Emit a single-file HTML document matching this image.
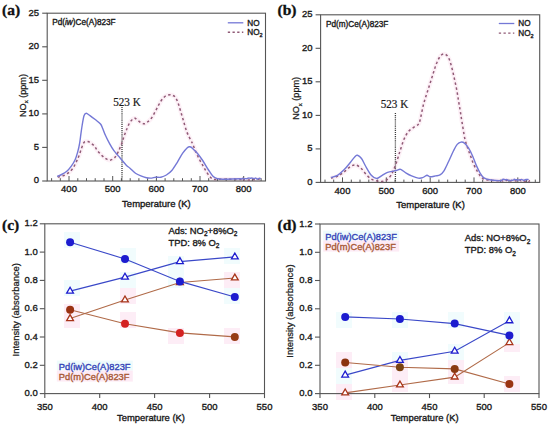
<!DOCTYPE html>
<html><head><meta charset="utf-8"><style>
html,body{margin:0;padding:0;background:#fff;}
svg{display:block;}
</style></head><body>
<svg width="550" height="427" viewBox="0 0 550 427">
<rect width="550" height="427" fill="#fff"/>
<path d="M57.7,177.1C58.6,176.9 61.2,176.5 62.9,175.8C64.6,175.2 66.4,174.4 68,173.2C69.6,172 71.2,170.6 72.6,168.7C74,166.8 75.3,163.8 76.4,161.6C77.5,159.4 78.1,158.1 79,155.8C79.9,153.6 80.7,150.4 81.6,148.1C82.5,145.8 83.1,143.3 84.2,142.2C85.3,141.1 86.8,141.4 88,141.6C89.2,141.8 90.2,142.8 91.3,143.5C92.4,144.2 93.5,145 94.5,146.1C95.5,147.2 95.9,148.5 97,150C98.1,151.5 99.8,153.5 101.2,154.9C102.6,156.3 104,157.5 105.4,158.4C106.8,159.3 108.1,160.3 109.6,160.2C111.1,160.1 113.2,159 114.6,157.7C116,156.3 116.9,154.4 118.1,152.1C119.3,149.8 120.5,146.5 121.6,143.7C122.6,140.9 123.5,137.9 124.4,135.3C125.3,132.7 126.3,130.3 127.2,128.2C128.1,126.1 128.8,124 129.8,122.5C130.8,121 132.1,119.7 133,119C133.9,118.3 134.2,118 135,118.2C135.8,118.5 137,119.7 138,120.5C139,121.3 139.9,122.2 141,122.8C142.1,123.3 143.4,123.9 144.5,123.8C145.6,123.7 146.3,122.9 147.5,122C148.7,121.1 150.2,119.9 151.4,118.2C152.7,116.5 153.9,114 155,112C156.1,110 157.2,107.7 158.2,105.9C159.2,104.1 160.1,102.4 161,101C161.9,99.6 162.7,98.6 163.6,97.7C164.5,96.8 165.4,96 166.5,95.5C167.6,95 169,94.7 170.1,94.7C171.2,94.7 172.1,95 173,95.5C173.9,96 174.6,96 175.5,97.5C176.4,99 177.4,101 178.6,104.5C179.8,108 181.3,113.7 182.7,118.2C184.1,122.8 185.4,128.1 186.8,131.8C188.2,135.5 189.9,138.4 190.9,140.5C191.9,142.6 191.8,142 192.7,144.1C193.6,146.2 195.2,150.5 196.4,153.2C197.6,155.9 198.8,158.2 200,160.5C201.2,162.8 202.4,164.7 203.6,166.8C204.8,168.9 206.1,171.4 207.3,173.2C208.5,175 209.7,176.6 210.9,177.7C212.1,178.8 212.8,179.2 214.5,179.5C216.2,179.8 216.7,179.2 220.9,179.2C225.2,179.2 236.6,179.4 240,179.5C243.4,179.6 240.9,179.8 241.3,179.7C241.7,179.6 242.2,178.9 242.6,178.9C243,178.9 243.5,179.6 243.9,179.7C244.3,179.9 244.8,179.8 245.2,179.8C245.6,179.9 246.1,179.9 246.5,179.9C246.9,179.9 247.4,179.9 247.8,179.9C248.2,179.9 248.7,179.9 249.1,179.9C249.5,180 250,180 250.4,179.9C250.8,179.9 251.3,179.9 251.7,179.8C252.1,179.7 252.6,179.4 253,179.4C253.4,179.4 253.9,179.8 254.3,179.8C254.7,179.9 255.2,179.8 255.6,179.8C256,179.8 256.5,179.8 256.9,179.7C257.3,179.6 257.8,179.2 258.2,179.1C258.6,179.1 259.1,179.5 259.5,179.6C259.9,179.7 260.6,179.7 260.8,179.7" fill="none" stroke="#fdf1f7" stroke-width="4.5" stroke-linejoin="round"/>
<path d="M330.9,178.1C332,177.8 335.3,177.4 337.5,176.4C339.7,175.4 341.8,173.7 344,172C346.2,170.3 348.5,167.7 350.5,166.5C352.5,165.3 354.2,164.6 356,165C357.8,165.4 359.7,167 361.5,168.7C363.3,170.4 365.1,173.5 366.9,175.3C368.7,177.1 370.4,178.6 372.4,179.6C374.4,180.6 376.7,181.1 378.9,181.3C381.1,181.5 383.5,181.7 385.5,180.7C387.5,179.7 389.3,177.8 390.9,175.3C392.5,172.8 393.9,169.3 395.3,165.5C396.8,161.7 398.2,156.8 399.6,152.4C401.1,148 402.5,142.8 404,139.3C405.5,135.8 406.8,133.6 408.4,131.6C410,129.6 412.2,128.5 413.8,127.3C415.4,126.1 417.2,125.6 418.2,124.5C419.2,123.4 419.1,124 420,120.5C420.9,117 422.3,109 423.7,103.7C425.1,98.4 426.8,93.7 428.4,88.7C430,83.7 431.7,78.1 433.1,73.7C434.5,69.3 435.6,65.5 436.9,62.5C438.1,59.5 439.4,57.3 440.6,55.9C441.8,54.5 443.1,53.8 444.3,54C445.6,54.2 447,55.2 448.1,56.9C449.2,58.6 450,61.2 450.9,64.3C451.8,67.4 452.8,71.5 453.7,75.6C454.6,79.7 455.7,84.7 456.5,88.7C457.3,92.8 457.8,96.2 458.4,99.9C459,103.7 459.7,107.5 460.3,111.2C460.9,114.9 461.2,117.4 462,122C462.8,126.6 463.9,134.2 464.8,138.6C465.8,143 466.8,145.3 467.7,148.2C468.6,151.1 469.6,153.2 470.5,155.8C471.4,158.4 472.3,160.9 473.4,163.5C474.5,166.1 475.9,168.9 477.2,171.1C478.5,173.3 479.6,175.4 481,176.8C482.4,178.2 482.6,179 485.8,179.7C489,180.4 497.4,180.7 500,180.8C502.6,181 500.9,180.5 501.3,180.6C501.7,180.6 502.2,181.1 502.6,181C503,180.9 503.5,180.2 503.9,180.1C504.3,179.9 504.8,180 505.2,180.1C505.6,180.1 506.1,180.4 506.5,180.4C506.9,180.5 507.4,180.1 507.8,180.3C508.2,180.4 508.7,181.2 509.1,181.4C509.5,181.5 510,181.4 510.4,181.2C510.8,181.1 511.3,180.5 511.7,180.4C512.1,180.3 512.6,180.7 513,180.6C513.4,180.6 513.9,180 514.3,180C514.7,180.1 515.2,180.9 515.6,181C516,181.1 516.5,180.8 516.9,180.8C517.3,180.8 517.8,181.1 518.2,181C518.6,180.9 519.1,180.1 519.5,180.1C519.9,180 520.4,180.7 520.8,180.8C521.2,180.8 521.7,180.2 522.1,180.1C522.5,180.1 523,180.4 523.4,180.6C523.8,180.8 524.3,181.1 524.7,181.2C525.1,181.3 525.6,181.3 526,181.2C526.4,181.2 526.9,180.7 527.3,180.7C527.7,180.7 528.2,181.4 528.6,181.4C529,181.3 529.7,180.4 529.9,180.3" fill="none" stroke="#fdf1f7" stroke-width="4.5" stroke-linejoin="round"/>
<rect x="64" y="280" width="16" height="16" fill="#f1fcfd"/>
<rect x="120" y="272" width="16" height="16" fill="#f1fcfd"/>
<rect x="168" y="256" width="16" height="16" fill="#f1fcfd"/>
<rect x="224" y="248" width="16" height="16" fill="#f1fcfd"/>
<rect x="64" y="312" width="16" height="16" fill="#fdedf6"/>
<rect x="120" y="288" width="16" height="16" fill="#fdedf6"/>
<rect x="168" y="272" width="16" height="16" fill="#fdedf6"/>
<rect x="224" y="272" width="16" height="16" fill="#fdedf6"/>
<rect x="64" y="232" width="16" height="16" fill="#f1fcfd"/>
<rect x="120" y="248" width="16" height="16" fill="#f1fcfd"/>
<rect x="168" y="272" width="16" height="16" fill="#f1fcfd"/>
<rect x="224" y="288" width="16" height="16" fill="#f1fcfd"/>
<rect x="64" y="304" width="16" height="16" fill="#fdedf6"/>
<rect x="120" y="312" width="16" height="16" fill="#fdedf6"/>
<rect x="168" y="328" width="16" height="16" fill="#fdedf6"/>
<rect x="224" y="328" width="16" height="16" fill="#fdedf6"/>
<rect x="56.8" y="360.6" width="76" height="10" fill="#eefbfc"/>
<rect x="56.8" y="370.6" width="76" height="11" fill="#fdebf5"/>
<rect x="336" y="368" width="16" height="16" fill="#f1fcfd"/>
<rect x="392" y="352" width="16" height="16" fill="#f1fcfd"/>
<rect x="448" y="344" width="16" height="16" fill="#f1fcfd"/>
<rect x="504" y="312" width="16" height="16" fill="#f1fcfd"/>
<rect x="336" y="384" width="16" height="16" fill="#fdedf6"/>
<rect x="392" y="376" width="16" height="16" fill="#fdedf6"/>
<rect x="448" y="368" width="16" height="16" fill="#fdedf6"/>
<rect x="504" y="336" width="16" height="16" fill="#fdedf6"/>
<rect x="336" y="312" width="16" height="16" fill="#f1fcfd"/>
<rect x="392" y="312" width="16" height="16" fill="#f1fcfd"/>
<rect x="448" y="312" width="16" height="16" fill="#f1fcfd"/>
<rect x="504" y="328" width="16" height="16" fill="#f1fcfd"/>
<rect x="336" y="352" width="16" height="16" fill="#fdedf6"/>
<rect x="392" y="360" width="16" height="16" fill="#fdedf6"/>
<rect x="448" y="360" width="16" height="16" fill="#fdedf6"/>
<rect x="504" y="376" width="16" height="16" fill="#fdedf6"/>
<rect x="323.2" y="230.6" width="76" height="10" fill="#eefbfc"/>
<rect x="323.2" y="240.6" width="76" height="11" fill="#fdebf5"/>
<rect x="47.2" y="13.2" width="218.3" height="167.8" fill="none" stroke="#555" stroke-width="1.1"/>
<line x1="42.2" y1="181" x2="47.2" y2="181" stroke="#555" stroke-width="1.1"/>
<text transform="translate(39,183.3) scale(1,1.05)" font-size="9.5" text-anchor="end" font-family="Liberation Sans" font-weight="normal" fill="#1a1a1a" stroke="#1a1a1a" stroke-width="0.35" >0</text>
<line x1="42.2" y1="147.4" x2="47.2" y2="147.4" stroke="#555" stroke-width="1.1"/>
<text transform="translate(39,149.7) scale(1,1.05)" font-size="9.5" text-anchor="end" font-family="Liberation Sans" font-weight="normal" fill="#1a1a1a" stroke="#1a1a1a" stroke-width="0.35" >5</text>
<line x1="42.2" y1="113.9" x2="47.2" y2="113.9" stroke="#555" stroke-width="1.1"/>
<text transform="translate(39,116.2) scale(1,1.05)" font-size="9.5" text-anchor="end" font-family="Liberation Sans" font-weight="normal" fill="#1a1a1a" stroke="#1a1a1a" stroke-width="0.35" >10</text>
<line x1="42.2" y1="80.3" x2="47.2" y2="80.3" stroke="#555" stroke-width="1.1"/>
<text transform="translate(39,82.6) scale(1,1.05)" font-size="9.5" text-anchor="end" font-family="Liberation Sans" font-weight="normal" fill="#1a1a1a" stroke="#1a1a1a" stroke-width="0.35" >15</text>
<line x1="42.2" y1="46.8" x2="47.2" y2="46.8" stroke="#555" stroke-width="1.1"/>
<text transform="translate(39,49.1) scale(1,1.05)" font-size="9.5" text-anchor="end" font-family="Liberation Sans" font-weight="normal" fill="#1a1a1a" stroke="#1a1a1a" stroke-width="0.35" >20</text>
<line x1="42.2" y1="13.2" x2="47.2" y2="13.2" stroke="#555" stroke-width="1.1"/>
<text transform="translate(39,15.5) scale(1,1.05)" font-size="9.5" text-anchor="end" font-family="Liberation Sans" font-weight="normal" fill="#1a1a1a" stroke="#1a1a1a" stroke-width="0.35" >25</text>
<line x1="51.6" y1="181" x2="51.6" y2="178.2" stroke="#555" stroke-width="1"/>
<line x1="60.3" y1="181" x2="60.3" y2="178.2" stroke="#555" stroke-width="1"/>
<line x1="69" y1="181" x2="69" y2="176" stroke="#555" stroke-width="1"/>
<line x1="77.8" y1="181" x2="77.8" y2="178.2" stroke="#555" stroke-width="1"/>
<line x1="86.5" y1="181" x2="86.5" y2="178.2" stroke="#555" stroke-width="1"/>
<line x1="95.2" y1="181" x2="95.2" y2="178.2" stroke="#555" stroke-width="1"/>
<line x1="104" y1="181" x2="104" y2="178.2" stroke="#555" stroke-width="1"/>
<line x1="112.7" y1="181" x2="112.7" y2="176" stroke="#555" stroke-width="1"/>
<line x1="121.4" y1="181" x2="121.4" y2="178.2" stroke="#555" stroke-width="1"/>
<line x1="130.2" y1="181" x2="130.2" y2="178.2" stroke="#555" stroke-width="1"/>
<line x1="138.9" y1="181" x2="138.9" y2="178.2" stroke="#555" stroke-width="1"/>
<line x1="147.6" y1="181" x2="147.6" y2="178.2" stroke="#555" stroke-width="1"/>
<line x1="156.4" y1="181" x2="156.4" y2="176" stroke="#555" stroke-width="1"/>
<line x1="165.1" y1="181" x2="165.1" y2="178.2" stroke="#555" stroke-width="1"/>
<line x1="173.8" y1="181" x2="173.8" y2="178.2" stroke="#555" stroke-width="1"/>
<line x1="182.5" y1="181" x2="182.5" y2="178.2" stroke="#555" stroke-width="1"/>
<line x1="191.3" y1="181" x2="191.3" y2="178.2" stroke="#555" stroke-width="1"/>
<line x1="200" y1="181" x2="200" y2="176" stroke="#555" stroke-width="1"/>
<line x1="208.7" y1="181" x2="208.7" y2="178.2" stroke="#555" stroke-width="1"/>
<line x1="217.5" y1="181" x2="217.5" y2="178.2" stroke="#555" stroke-width="1"/>
<line x1="226.2" y1="181" x2="226.2" y2="178.2" stroke="#555" stroke-width="1"/>
<line x1="234.9" y1="181" x2="234.9" y2="178.2" stroke="#555" stroke-width="1"/>
<line x1="243.7" y1="181" x2="243.7" y2="176" stroke="#555" stroke-width="1"/>
<line x1="252.4" y1="181" x2="252.4" y2="178.2" stroke="#555" stroke-width="1"/>
<line x1="261.1" y1="181" x2="261.1" y2="178.2" stroke="#555" stroke-width="1"/>
<text transform="translate(69,192.3) scale(1,1.05)" font-size="9.5" text-anchor="middle" font-family="Liberation Sans" font-weight="normal" fill="#1a1a1a" stroke="#1a1a1a" stroke-width="0.35" >400</text>
<text transform="translate(112.7,192.3) scale(1,1.05)" font-size="9.5" text-anchor="middle" font-family="Liberation Sans" font-weight="normal" fill="#1a1a1a" stroke="#1a1a1a" stroke-width="0.35" >500</text>
<text transform="translate(156.4,192.3) scale(1,1.05)" font-size="9.5" text-anchor="middle" font-family="Liberation Sans" font-weight="normal" fill="#1a1a1a" stroke="#1a1a1a" stroke-width="0.35" >600</text>
<text transform="translate(200,192.3) scale(1,1.05)" font-size="9.5" text-anchor="middle" font-family="Liberation Sans" font-weight="normal" fill="#1a1a1a" stroke="#1a1a1a" stroke-width="0.35" >700</text>
<text transform="translate(243.7,192.3) scale(1,1.05)" font-size="9.5" text-anchor="middle" font-family="Liberation Sans" font-weight="normal" fill="#1a1a1a" stroke="#1a1a1a" stroke-width="0.35" >800</text>
<text transform="translate(156.4,207.3) scale(1,1.05)" font-size="9.5" text-anchor="middle" font-family="Liberation Sans" font-weight="normal" fill="#1a1a1a" stroke="#1a1a1a" stroke-width="0.35" >Temperature (K)</text>
<text transform="translate(25.5,95.5) rotate(-90)" font-size="9.1" text-anchor="middle" font-family="Liberation Sans" fill="#1a1a1a" stroke="#1a1a1a" stroke-width="0.25">NO<tspan font-size="6" dy="2.3">x</tspan><tspan dy="-2.3"> (ppm)</tspan></text>
<text transform="translate(52.3,25.3) scale(1,1.05)" font-size="8.2" text-anchor="start" font-family="Liberation Sans" font-weight="normal" fill="#1a1a1a" stroke="#1a1a1a" stroke-width="0.35" >Pd(<tspan font-style="italic">iw</tspan>)Ce(A)823F</text>
<line x1="227.8" y1="22.8" x2="243.3" y2="22.8" stroke="#7478d6" stroke-width="1.3"/>
<line x1="227.8" y1="32.3" x2="243.3" y2="32.3" stroke="#905a76" stroke-width="1.4" stroke-dasharray="2.3,2.4"/>
<text transform="translate(247.3,25.7) scale(1,1.05)" font-size="8.2" text-anchor="start" font-family="Liberation Sans" font-weight="normal" fill="#1a1a1a" stroke="#1a1a1a" stroke-width="0.35" >NO</text>
<text transform="translate(247.3,35.2) scale(1,1.05)" font-size="8.2" text-anchor="start" font-family="Liberation Sans" font-weight="normal" fill="#1a1a1a" stroke="#1a1a1a" stroke-width="0.35" >NO<tspan font-size="5.5" dy="2">2</tspan></text>
<line x1="122" y1="107" x2="122" y2="181" stroke="#3a3a3a" stroke-width="1.3" stroke-dasharray="1.1,1"/>
<text transform="translate(113.2,106.3) scale(0.915,1)" font-size="12.2" font-family="Liberation Serif" fill="#1a1a1a" stroke="#1a1a1a" stroke-width="0.2">523 K</text>
<path d="M57.7,177.1C58.6,176.9 61.2,176.5 62.9,175.8C64.6,175.2 66.4,174.4 68,173.2C69.6,172 71.2,170.6 72.6,168.7C74,166.8 75.3,163.8 76.4,161.6C77.5,159.4 78.1,158.1 79,155.8C79.9,153.6 80.7,150.4 81.6,148.1C82.5,145.8 83.1,143.3 84.2,142.2C85.3,141.1 86.8,141.4 88,141.6C89.2,141.8 90.2,142.8 91.3,143.5C92.4,144.2 93.5,145 94.5,146.1C95.5,147.2 95.9,148.5 97,150C98.1,151.5 99.8,153.5 101.2,154.9C102.6,156.3 104,157.5 105.4,158.4C106.8,159.3 108.1,160.3 109.6,160.2C111.1,160.1 113.2,159 114.6,157.7C116,156.3 116.9,154.4 118.1,152.1C119.3,149.8 120.5,146.5 121.6,143.7C122.6,140.9 123.5,137.9 124.4,135.3C125.3,132.7 126.3,130.3 127.2,128.2C128.1,126.1 128.8,124 129.8,122.5C130.8,121 132.1,119.7 133,119C133.9,118.3 134.2,118 135,118.2C135.8,118.5 137,119.7 138,120.5C139,121.3 139.9,122.2 141,122.8C142.1,123.3 143.4,123.9 144.5,123.8C145.6,123.7 146.3,122.9 147.5,122C148.7,121.1 150.2,119.9 151.4,118.2C152.7,116.5 153.9,114 155,112C156.1,110 157.2,107.7 158.2,105.9C159.2,104.1 160.1,102.4 161,101C161.9,99.6 162.7,98.6 163.6,97.7C164.5,96.8 165.4,96 166.5,95.5C167.6,95 169,94.7 170.1,94.7C171.2,94.7 172.1,95 173,95.5C173.9,96 174.6,96 175.5,97.5C176.4,99 177.4,101 178.6,104.5C179.8,108 181.3,113.7 182.7,118.2C184.1,122.8 185.4,128.1 186.8,131.8C188.2,135.5 189.9,138.4 190.9,140.5C191.9,142.6 191.8,142 192.7,144.1C193.6,146.2 195.2,150.5 196.4,153.2C197.6,155.9 198.8,158.2 200,160.5C201.2,162.8 202.4,164.7 203.6,166.8C204.8,168.9 206.1,171.4 207.3,173.2C208.5,175 209.7,176.6 210.9,177.7C212.1,178.8 212.8,179.2 214.5,179.5C216.2,179.8 216.7,179.2 220.9,179.2C225.2,179.2 236.6,179.4 240,179.5C243.4,179.6 240.9,179.8 241.3,179.7C241.7,179.6 242.2,178.9 242.6,178.9C243,178.9 243.5,179.6 243.9,179.7C244.3,179.9 244.8,179.8 245.2,179.8C245.6,179.9 246.1,179.9 246.5,179.9C246.9,179.9 247.4,179.9 247.8,179.9C248.2,179.9 248.7,179.9 249.1,179.9C249.5,180 250,180 250.4,179.9C250.8,179.9 251.3,179.9 251.7,179.8C252.1,179.7 252.6,179.4 253,179.4C253.4,179.4 253.9,179.8 254.3,179.8C254.7,179.9 255.2,179.8 255.6,179.8C256,179.8 256.5,179.8 256.9,179.7C257.3,179.6 257.8,179.2 258.2,179.1C258.6,179.1 259.1,179.5 259.5,179.6C259.9,179.7 260.6,179.7 260.8,179.7" fill="none" stroke="#905a76" stroke-width="1.5" stroke-dasharray="2.4,2.6"/>
<path d="M57.1,176.4C57.9,176.1 60,175.3 61.6,174.5C63.2,173.7 65.2,172.7 66.8,171.3C68.4,169.9 69.9,168 71.3,166.1C72.7,164.2 74,162.1 75.1,159.7C76.2,157.3 76.9,154.7 77.7,151.9C78.5,149.1 79.2,145.9 79.7,142.9C80.2,139.9 80.5,136.9 80.9,133.9C81.3,130.9 81.7,128.1 82.2,125C82.7,121.9 83.4,117.5 84.1,115.5C84.8,113.5 85.2,113.3 86.2,113.3C87.2,113.3 88.4,114.5 90,115.6C91.6,116.7 93.8,118.4 95.6,119.8C97.3,121.2 99.3,122.6 100.5,124C101.7,125.4 101.8,126.3 102.6,128.2C103.4,130.1 104.2,132.7 105.4,135.3C106.6,137.9 108.2,141.1 109.6,143.7C111,146.3 112.5,148.7 113.9,150.7C115.3,152.7 116.8,154.1 118.1,155.6C119.4,157.1 120.2,158.2 121.6,159.8C123,161.4 125.1,164 126.5,165.4C127.9,166.8 128.5,166.9 130,168.2C131.5,169.5 133.7,171.9 135.5,173.2C137.3,174.5 139.1,175.2 140.9,175.9C142.7,176.7 144.6,177.3 146.4,177.7C148.2,178.1 150.3,178.2 151.8,178.1C153.3,178 154,177.3 155.5,177.2C157,177 159.1,177.6 160.9,177.2C162.7,176.8 164.6,176.1 166.4,175C168.2,173.9 170,172.6 171.8,170.5C173.6,168.4 175.5,165.2 177.3,162.3C179.1,159.4 181,155.6 182.7,153.2C184.4,150.8 186.1,148.8 187.3,147.7C188.5,146.6 189.1,146.7 190,146.8C190.9,147 191.5,147.5 192.7,148.6C193.9,149.7 195.6,151.2 197.3,153.2C199,155.2 200.9,157.8 202.7,160.5C204.5,163.2 206.5,166.9 208.2,169.5C209.9,172.1 211.2,174.4 212.7,175.9C214.2,177.4 215.6,178.1 217.3,178.6C219,179.1 218.9,179.2 222.7,179.2C226.5,179.2 236.9,178.8 240,178.8C243.1,178.8 240.9,179.2 241.3,179.1C241.7,179 242.2,178.3 242.6,178.3C243,178.3 243.5,178.9 243.9,178.9C244.3,179 244.8,178.6 245.2,178.6C245.6,178.5 246.1,178.8 246.5,178.7C246.9,178.7 247.4,178.4 247.8,178.3C248.2,178.1 248.7,177.9 249.1,178C249.5,178 250,178.3 250.4,178.3C250.8,178.3 251.3,177.9 251.7,178C252.1,178 252.6,178.2 253,178.4C253.4,178.5 253.9,178.7 254.3,178.6C254.7,178.6 255.2,177.9 255.6,178C256,178 256.5,178.9 256.9,179C257.3,179.2 257.8,179.1 258.2,178.9C258.6,178.8 259.1,178.2 259.5,178.1C259.9,178.1 260.6,178.6 260.8,178.7" fill="none" stroke="#7478d6" stroke-width="1.4"/>
<text x="2" y="14.8" font-size="15.5" text-anchor="start" font-family="Liberation Serif" font-weight="bold" fill="#111" stroke="#111" stroke-width="0.35" >(a)</text>
<rect x="320.6" y="14.8" width="219.1" height="167.6" fill="none" stroke="#555" stroke-width="1.1"/>
<line x1="315.6" y1="182.4" x2="320.6" y2="182.4" stroke="#555" stroke-width="1.1"/>
<text transform="translate(312.5,184.7) scale(1,1.05)" font-size="9.5" text-anchor="end" font-family="Liberation Sans" font-weight="normal" fill="#1a1a1a" stroke="#1a1a1a" stroke-width="0.35" >0</text>
<line x1="315.6" y1="148.9" x2="320.6" y2="148.9" stroke="#555" stroke-width="1.1"/>
<text transform="translate(312.5,151.2) scale(1,1.05)" font-size="9.5" text-anchor="end" font-family="Liberation Sans" font-weight="normal" fill="#1a1a1a" stroke="#1a1a1a" stroke-width="0.35" >5</text>
<line x1="315.6" y1="115.4" x2="320.6" y2="115.4" stroke="#555" stroke-width="1.1"/>
<text transform="translate(312.5,117.7) scale(1,1.05)" font-size="9.5" text-anchor="end" font-family="Liberation Sans" font-weight="normal" fill="#1a1a1a" stroke="#1a1a1a" stroke-width="0.35" >10</text>
<line x1="315.6" y1="81.8" x2="320.6" y2="81.8" stroke="#555" stroke-width="1.1"/>
<text transform="translate(312.5,84.1) scale(1,1.05)" font-size="9.5" text-anchor="end" font-family="Liberation Sans" font-weight="normal" fill="#1a1a1a" stroke="#1a1a1a" stroke-width="0.35" >15</text>
<line x1="315.6" y1="48.3" x2="320.6" y2="48.3" stroke="#555" stroke-width="1.1"/>
<text transform="translate(312.5,50.6) scale(1,1.05)" font-size="9.5" text-anchor="end" font-family="Liberation Sans" font-weight="normal" fill="#1a1a1a" stroke="#1a1a1a" stroke-width="0.35" >20</text>
<line x1="315.6" y1="14.8" x2="320.6" y2="14.8" stroke="#555" stroke-width="1.1"/>
<text transform="translate(312.5,17.1) scale(1,1.05)" font-size="9.5" text-anchor="end" font-family="Liberation Sans" font-weight="normal" fill="#1a1a1a" stroke="#1a1a1a" stroke-width="0.35" >25</text>
<line x1="325" y1="182.4" x2="325" y2="179.6" stroke="#555" stroke-width="1"/>
<line x1="333.7" y1="182.4" x2="333.7" y2="179.6" stroke="#555" stroke-width="1"/>
<line x1="342.5" y1="182.4" x2="342.5" y2="177.4" stroke="#555" stroke-width="1"/>
<line x1="351.3" y1="182.4" x2="351.3" y2="179.6" stroke="#555" stroke-width="1"/>
<line x1="360" y1="182.4" x2="360" y2="179.6" stroke="#555" stroke-width="1"/>
<line x1="368.8" y1="182.4" x2="368.8" y2="179.6" stroke="#555" stroke-width="1"/>
<line x1="377.6" y1="182.4" x2="377.6" y2="179.6" stroke="#555" stroke-width="1"/>
<line x1="386.3" y1="182.4" x2="386.3" y2="177.4" stroke="#555" stroke-width="1"/>
<line x1="395.1" y1="182.4" x2="395.1" y2="179.6" stroke="#555" stroke-width="1"/>
<line x1="403.9" y1="182.4" x2="403.9" y2="179.6" stroke="#555" stroke-width="1"/>
<line x1="412.6" y1="182.4" x2="412.6" y2="179.6" stroke="#555" stroke-width="1"/>
<line x1="421.4" y1="182.4" x2="421.4" y2="179.6" stroke="#555" stroke-width="1"/>
<line x1="430.2" y1="182.4" x2="430.2" y2="177.4" stroke="#555" stroke-width="1"/>
<line x1="438.9" y1="182.4" x2="438.9" y2="179.6" stroke="#555" stroke-width="1"/>
<line x1="447.7" y1="182.4" x2="447.7" y2="179.6" stroke="#555" stroke-width="1"/>
<line x1="456.4" y1="182.4" x2="456.4" y2="179.6" stroke="#555" stroke-width="1"/>
<line x1="465.2" y1="182.4" x2="465.2" y2="179.6" stroke="#555" stroke-width="1"/>
<line x1="474" y1="182.4" x2="474" y2="177.4" stroke="#555" stroke-width="1"/>
<line x1="482.7" y1="182.4" x2="482.7" y2="179.6" stroke="#555" stroke-width="1"/>
<line x1="491.5" y1="182.4" x2="491.5" y2="179.6" stroke="#555" stroke-width="1"/>
<line x1="500.3" y1="182.4" x2="500.3" y2="179.6" stroke="#555" stroke-width="1"/>
<line x1="509" y1="182.4" x2="509" y2="179.6" stroke="#555" stroke-width="1"/>
<line x1="517.8" y1="182.4" x2="517.8" y2="177.4" stroke="#555" stroke-width="1"/>
<line x1="526.6" y1="182.4" x2="526.6" y2="179.6" stroke="#555" stroke-width="1"/>
<line x1="535.3" y1="182.4" x2="535.3" y2="179.6" stroke="#555" stroke-width="1"/>
<text transform="translate(342.5,193.7) scale(1,1.05)" font-size="9.5" text-anchor="middle" font-family="Liberation Sans" font-weight="normal" fill="#1a1a1a" stroke="#1a1a1a" stroke-width="0.35" >400</text>
<text transform="translate(386.3,193.7) scale(1,1.05)" font-size="9.5" text-anchor="middle" font-family="Liberation Sans" font-weight="normal" fill="#1a1a1a" stroke="#1a1a1a" stroke-width="0.35" >500</text>
<text transform="translate(430.2,193.7) scale(1,1.05)" font-size="9.5" text-anchor="middle" font-family="Liberation Sans" font-weight="normal" fill="#1a1a1a" stroke="#1a1a1a" stroke-width="0.35" >600</text>
<text transform="translate(474,193.7) scale(1,1.05)" font-size="9.5" text-anchor="middle" font-family="Liberation Sans" font-weight="normal" fill="#1a1a1a" stroke="#1a1a1a" stroke-width="0.35" >700</text>
<text transform="translate(517.8,193.7) scale(1,1.05)" font-size="9.5" text-anchor="middle" font-family="Liberation Sans" font-weight="normal" fill="#1a1a1a" stroke="#1a1a1a" stroke-width="0.35" >800</text>
<text transform="translate(430.5,208.2) scale(1,1.05)" font-size="9.5" text-anchor="middle" font-family="Liberation Sans" font-weight="normal" fill="#1a1a1a" stroke="#1a1a1a" stroke-width="0.35" >Temperature (K)</text>
<text transform="translate(299.3,98.4) rotate(-90)" font-size="9.1" text-anchor="middle" font-family="Liberation Sans" fill="#1a1a1a" stroke="#1a1a1a" stroke-width="0.25">NO<tspan font-size="6" dy="2.3">x</tspan><tspan dy="-2.3"> (ppm)</tspan></text>
<text transform="translate(326,26.7) scale(1,1.05)" font-size="8.2" text-anchor="start" font-family="Liberation Sans" font-weight="normal" fill="#1a1a1a" stroke="#1a1a1a" stroke-width="0.35" >Pd(m)Ce(A)823F</text>
<line x1="498.8" y1="23.5" x2="514.3" y2="23.5" stroke="#7478d6" stroke-width="1.3"/>
<line x1="498.8" y1="33.1" x2="514.3" y2="33.1" stroke="#905a76" stroke-width="1.4" stroke-dasharray="2.3,2.4"/>
<text transform="translate(518.3,26.4) scale(1,1.05)" font-size="8.2" text-anchor="start" font-family="Liberation Sans" font-weight="normal" fill="#1a1a1a" stroke="#1a1a1a" stroke-width="0.35" >NO</text>
<text transform="translate(518.3,36) scale(1,1.05)" font-size="8.2" text-anchor="start" font-family="Liberation Sans" font-weight="normal" fill="#1a1a1a" stroke="#1a1a1a" stroke-width="0.35" >NO<tspan font-size="5.5" dy="2">2</tspan></text>
<line x1="395.4" y1="113" x2="395.4" y2="182.4" stroke="#3a3a3a" stroke-width="1.3" stroke-dasharray="1.1,1"/>
<text transform="translate(380.7,107.6) scale(0.915,1)" font-size="12.2" font-family="Liberation Serif" fill="#1a1a1a" stroke="#1a1a1a" stroke-width="0.2">523 K</text>
<path d="M330.9,178.1C332,177.8 335.3,177.4 337.5,176.4C339.7,175.4 341.8,173.7 344,172C346.2,170.3 348.5,167.7 350.5,166.5C352.5,165.3 354.2,164.6 356,165C357.8,165.4 359.7,167 361.5,168.7C363.3,170.4 365.1,173.5 366.9,175.3C368.7,177.1 370.4,178.6 372.4,179.6C374.4,180.6 376.7,181.1 378.9,181.3C381.1,181.5 383.5,181.7 385.5,180.7C387.5,179.7 389.3,177.8 390.9,175.3C392.5,172.8 393.9,169.3 395.3,165.5C396.8,161.7 398.2,156.8 399.6,152.4C401.1,148 402.5,142.8 404,139.3C405.5,135.8 406.8,133.6 408.4,131.6C410,129.6 412.2,128.5 413.8,127.3C415.4,126.1 417.2,125.6 418.2,124.5C419.2,123.4 419.1,124 420,120.5C420.9,117 422.3,109 423.7,103.7C425.1,98.4 426.8,93.7 428.4,88.7C430,83.7 431.7,78.1 433.1,73.7C434.5,69.3 435.6,65.5 436.9,62.5C438.1,59.5 439.4,57.3 440.6,55.9C441.8,54.5 443.1,53.8 444.3,54C445.6,54.2 447,55.2 448.1,56.9C449.2,58.6 450,61.2 450.9,64.3C451.8,67.4 452.8,71.5 453.7,75.6C454.6,79.7 455.7,84.7 456.5,88.7C457.3,92.8 457.8,96.2 458.4,99.9C459,103.7 459.7,107.5 460.3,111.2C460.9,114.9 461.2,117.4 462,122C462.8,126.6 463.9,134.2 464.8,138.6C465.8,143 466.8,145.3 467.7,148.2C468.6,151.1 469.6,153.2 470.5,155.8C471.4,158.4 472.3,160.9 473.4,163.5C474.5,166.1 475.9,168.9 477.2,171.1C478.5,173.3 479.6,175.4 481,176.8C482.4,178.2 482.6,179 485.8,179.7C489,180.4 497.4,180.7 500,180.8C502.6,181 500.9,180.5 501.3,180.6C501.7,180.6 502.2,181.1 502.6,181C503,180.9 503.5,180.2 503.9,180.1C504.3,179.9 504.8,180 505.2,180.1C505.6,180.1 506.1,180.4 506.5,180.4C506.9,180.5 507.4,180.1 507.8,180.3C508.2,180.4 508.7,181.2 509.1,181.4C509.5,181.5 510,181.4 510.4,181.2C510.8,181.1 511.3,180.5 511.7,180.4C512.1,180.3 512.6,180.7 513,180.6C513.4,180.6 513.9,180 514.3,180C514.7,180.1 515.2,180.9 515.6,181C516,181.1 516.5,180.8 516.9,180.8C517.3,180.8 517.8,181.1 518.2,181C518.6,180.9 519.1,180.1 519.5,180.1C519.9,180 520.4,180.7 520.8,180.8C521.2,180.8 521.7,180.2 522.1,180.1C522.5,180.1 523,180.4 523.4,180.6C523.8,180.8 524.3,181.1 524.7,181.2C525.1,181.3 525.6,181.3 526,181.2C526.4,181.2 526.9,180.7 527.3,180.7C527.7,180.7 528.2,181.4 528.6,181.4C529,181.3 529.7,180.4 529.9,180.3" fill="none" stroke="#905a76" stroke-width="1.5" stroke-dasharray="2.4,2.6"/>
<path d="M330.9,177.5C332,177.1 335.3,176.6 337.5,175.3C339.7,174 341.8,172 344,169.8C346.2,167.6 348.7,164.4 350.5,162.2C352.3,160 353.7,157.9 354.9,156.7C356.1,155.5 356.4,154.9 357.5,155.2C358.6,155.5 360.1,156.6 361.5,158.5C362.9,160.4 364.2,163.7 365.8,166.5C367.4,169.3 369.5,173.3 371.3,175.3C373.1,177.3 374.9,178.5 376.7,178.5C378.5,178.5 380.4,176.3 382.2,175.3C384,174.3 385.6,173.1 387.6,172.4C389.6,171.7 392.6,171.3 394.2,170.9C395.8,170.5 395.9,170.4 397,170.2C398.1,169.9 399.2,168.9 400.7,169.4C402.2,169.9 404.4,172 406.2,173.1C408,174.2 409.6,175.1 411.6,175.9C413.6,176.7 416.4,177.8 418.2,178.1C420,178.4 421.2,178.2 422.6,177.7C424.1,177.2 425.6,175.5 426.9,175.3C428.2,175.2 428.8,176.7 430.2,176.8C431.6,176.9 434,176.2 435.6,175.9C437.2,175.6 438.6,175.7 440,174.9C441.4,174.1 442.4,173.3 443.8,171.1C445.2,168.9 447,164.8 448.6,161.5C450.2,158.2 452,153.8 453.4,151C454.8,148.2 455.9,145.9 457.2,144.4C458.5,142.9 459.7,142.3 461,142.1C462.3,141.9 463.5,142.4 464.8,143.4C466.1,144.4 467.3,146.1 468.6,148.2C469.9,150.3 471.2,152.9 472.5,155.8C473.8,158.7 475,162.5 476.3,165.4C477.6,168.3 478.8,170.9 480.1,173C481.4,175.1 482.3,176.7 483.9,177.8C485.5,178.9 486.9,179.2 489.6,179.7C492.3,180.2 498.1,180.5 500,180.6C501.9,180.8 500.9,180.7 501.3,180.5C501.7,180.3 502.2,179.7 502.6,179.5C503,179.3 503.5,179.3 503.9,179.3C504.3,179.4 504.8,179.8 505.2,179.8C505.6,179.9 506.1,179.4 506.5,179.4C506.9,179.4 507.4,179.9 507.8,180.1C508.2,180.3 508.7,180.5 509.1,180.5C509.5,180.6 510,180.6 510.4,180.5C510.8,180.5 511.3,180.1 511.7,180.1C512.1,180.1 512.6,180.5 513,180.4C513.4,180.3 513.9,179.4 514.3,179.3C514.7,179.2 515.2,179.6 515.6,179.7C516,179.8 516.5,179.8 516.9,179.8C517.3,179.9 517.8,180 518.2,180C518.6,180 519.1,180 519.5,179.9C519.9,179.9 520.4,179.7 520.8,179.6C521.2,179.5 521.7,179.5 522.1,179.6C522.5,179.7 523,180.2 523.4,180.3C523.8,180.4 524.3,180.2 524.7,180C525.1,179.9 525.6,179.6 526,179.5C526.4,179.4 526.9,179.5 527.3,179.5C527.7,179.4 528.4,179.4 528.6,179.3" fill="none" stroke="#7478d6" stroke-width="1.4"/>
<text x="277.5" y="15.2" font-size="15.5" text-anchor="start" font-family="Liberation Serif" font-weight="bold" fill="#111" stroke="#111" stroke-width="0.35" >(b)</text>
<rect x="44.8" y="223.8" width="219.7" height="169.8" fill="none" stroke="#555" stroke-width="1.1"/>
<line x1="39.8" y1="393.6" x2="44.8" y2="393.6" stroke="#555" stroke-width="1.1"/>
<text transform="translate(37.8,396.2) scale(1,1.05)" font-size="9.5" text-anchor="end" font-family="Liberation Sans" font-weight="normal" fill="#1a1a1a" stroke="#1a1a1a" stroke-width="0.35" >0.0</text>
<line x1="39.8" y1="365.3" x2="44.8" y2="365.3" stroke="#555" stroke-width="1.1"/>
<text transform="translate(37.8,367.9) scale(1,1.05)" font-size="9.5" text-anchor="end" font-family="Liberation Sans" font-weight="normal" fill="#1a1a1a" stroke="#1a1a1a" stroke-width="0.35" >0.2</text>
<line x1="39.8" y1="337" x2="44.8" y2="337" stroke="#555" stroke-width="1.1"/>
<text transform="translate(37.8,339.6) scale(1,1.05)" font-size="9.5" text-anchor="end" font-family="Liberation Sans" font-weight="normal" fill="#1a1a1a" stroke="#1a1a1a" stroke-width="0.35" >0.4</text>
<line x1="39.8" y1="308.7" x2="44.8" y2="308.7" stroke="#555" stroke-width="1.1"/>
<text transform="translate(37.8,311.3) scale(1,1.05)" font-size="9.5" text-anchor="end" font-family="Liberation Sans" font-weight="normal" fill="#1a1a1a" stroke="#1a1a1a" stroke-width="0.35" >0.6</text>
<line x1="39.8" y1="280.4" x2="44.8" y2="280.4" stroke="#555" stroke-width="1.1"/>
<text transform="translate(37.8,283) scale(1,1.05)" font-size="9.5" text-anchor="end" font-family="Liberation Sans" font-weight="normal" fill="#1a1a1a" stroke="#1a1a1a" stroke-width="0.35" >0.8</text>
<line x1="39.8" y1="252.1" x2="44.8" y2="252.1" stroke="#555" stroke-width="1.1"/>
<text transform="translate(37.8,254.7) scale(1,1.05)" font-size="9.5" text-anchor="end" font-family="Liberation Sans" font-weight="normal" fill="#1a1a1a" stroke="#1a1a1a" stroke-width="0.35" >1.0</text>
<line x1="39.8" y1="223.8" x2="44.8" y2="223.8" stroke="#555" stroke-width="1.1"/>
<text transform="translate(37.8,226.4) scale(1,1.05)" font-size="9.5" text-anchor="end" font-family="Liberation Sans" font-weight="normal" fill="#1a1a1a" stroke="#1a1a1a" stroke-width="0.35" >1.2</text>
<line x1="44.8" y1="393.6" x2="44.8" y2="398.1" stroke="#555" stroke-width="1.1"/>
<text transform="translate(44.8,410.3) scale(1,1.05)" font-size="9.5" text-anchor="middle" font-family="Liberation Sans" font-weight="normal" fill="#1a1a1a" stroke="#1a1a1a" stroke-width="0.35" >350</text>
<line x1="99.7" y1="393.6" x2="99.7" y2="398.1" stroke="#555" stroke-width="1.1"/>
<text transform="translate(99.7,410.3) scale(1,1.05)" font-size="9.5" text-anchor="middle" font-family="Liberation Sans" font-weight="normal" fill="#1a1a1a" stroke="#1a1a1a" stroke-width="0.35" >400</text>
<line x1="154.6" y1="393.6" x2="154.6" y2="398.1" stroke="#555" stroke-width="1.1"/>
<text transform="translate(154.6,410.3) scale(1,1.05)" font-size="9.5" text-anchor="middle" font-family="Liberation Sans" font-weight="normal" fill="#1a1a1a" stroke="#1a1a1a" stroke-width="0.35" >450</text>
<line x1="209.6" y1="393.6" x2="209.6" y2="398.1" stroke="#555" stroke-width="1.1"/>
<text transform="translate(209.6,410.3) scale(1,1.05)" font-size="9.5" text-anchor="middle" font-family="Liberation Sans" font-weight="normal" fill="#1a1a1a" stroke="#1a1a1a" stroke-width="0.35" >500</text>
<line x1="264.5" y1="393.6" x2="264.5" y2="398.1" stroke="#555" stroke-width="1.1"/>
<text transform="translate(264.5,410.3) scale(1,1.05)" font-size="9.5" text-anchor="middle" font-family="Liberation Sans" font-weight="normal" fill="#1a1a1a" stroke="#1a1a1a" stroke-width="0.35" >550</text>
<text transform="translate(151,421.2) scale(1,1.05)" font-size="9.4" text-anchor="middle" font-family="Liberation Sans" font-weight="normal" fill="#1a1a1a" stroke="#1a1a1a" stroke-width="0.35" >Temperature (K)</text>
<text transform="translate(19.4,309.7) rotate(-90)" font-size="9.45" text-anchor="middle" font-family="Liberation Sans" fill="#1a1a1a" stroke="#1a1a1a" stroke-width="0.25">Intensity (absorbance)</text>
<path d="M70.1,291.1 L125,277.1 L179.9,261.6 L234.8,256.9" fill="none" stroke="#3a48c8" stroke-width="1.1"/>
<path d="M70.1,318.6 L125,299.9 L179.9,282.5 L234.8,278" fill="none" stroke="#b06a48" stroke-width="1.1"/>
<path d="M70.1,242.3 L125,258.9 L179.9,281.4 L234.8,297" fill="none" stroke="#3a48c8" stroke-width="1.1"/>
<path d="M70.1,309.7 L125,323.8 L179.9,332.9 L234.8,336.9" fill="none" stroke="#b06a48" stroke-width="1.1"/>
<path d="M70.07,287.22 L73.47,293.11 L66.67,293.11 Z" fill="white" stroke="#1c1ccf" stroke-width="1.3" stroke-linejoin="miter"/>
<path d="M124.99,273.21 L128.39,279.10 L121.59,279.10 Z" fill="white" stroke="#1c1ccf" stroke-width="1.3" stroke-linejoin="miter"/>
<path d="M179.92,257.65 L183.32,263.54 L176.52,263.54 Z" fill="white" stroke="#1c1ccf" stroke-width="1.3" stroke-linejoin="miter"/>
<path d="M234.84,252.98 L238.24,258.87 L231.44,258.87 Z" fill="white" stroke="#1c1ccf" stroke-width="1.3" stroke-linejoin="miter"/>
<path d="M70.07,314.67 L73.47,320.56 L66.67,320.56 Z" fill="white" stroke="#a8341a" stroke-width="1.3" stroke-linejoin="miter"/>
<path d="M124.99,295.99 L128.39,301.88 L121.59,301.88 Z" fill="white" stroke="#a8341a" stroke-width="1.3" stroke-linejoin="miter"/>
<path d="M179.92,278.59 L183.32,284.48 L176.52,284.48 Z" fill="white" stroke="#a8341a" stroke-width="1.3" stroke-linejoin="miter"/>
<path d="M234.84,274.06 L238.24,279.95 L231.44,279.95 Z" fill="white" stroke="#a8341a" stroke-width="1.3" stroke-linejoin="miter"/>
<circle cx="70.1" cy="242.3" r="4" fill="#1c1ccf"/>
<circle cx="125" cy="258.9" r="4" fill="#1c1ccf"/>
<circle cx="179.9" cy="281.4" r="4" fill="#1c1ccf"/>
<circle cx="234.8" cy="297" r="4" fill="#1c1ccf"/>
<circle cx="70.1" cy="309.7" r="4" fill="#9a3212"/>
<circle cx="125" cy="323.8" r="4" fill="#d42222"/>
<circle cx="179.9" cy="332.9" r="4" fill="#d42222"/>
<circle cx="234.8" cy="336.9" r="4" fill="#963a14"/>
<text transform="translate(58.8,369.6) scale(1,1.05)" font-size="9.3" text-anchor="start" font-family="Liberation Sans" font-weight="normal" fill="#3444b8" stroke="#3444b8" stroke-width="0.35" >Pd(iw)Ce(A)823F</text>
<text transform="translate(58.8,379.8) scale(1,1.05)" font-size="9.3" text-anchor="start" font-family="Liberation Sans" font-weight="normal" fill="#a85a36" stroke="#a85a36" stroke-width="0.35" >Pd(m)Ce(A)823F</text>
<text transform="translate(168.4,233.5) scale(1,1.05)" font-size="9.4" text-anchor="start" font-family="Liberation Sans" font-weight="normal" fill="#1a1a1a" stroke="#1a1a1a" stroke-width="0.35" >Ads: NO<tspan font-size="6.5" dy="2.5">2</tspan><tspan dy="-2.5">+8%O</tspan><tspan font-size="6.5" dy="2.5">2</tspan></text>
<text transform="translate(168.4,245.7) scale(1,1.05)" font-size="9.4" text-anchor="start" font-family="Liberation Sans" font-weight="normal" fill="#1a1a1a" stroke="#1a1a1a" stroke-width="0.35" >TPD: 8% O<tspan font-size="6.5" dy="2.5">2</tspan></text>
<text x="2" y="229.6" font-size="15.5" text-anchor="start" font-family="Liberation Serif" font-weight="bold" fill="#111" stroke="#111" stroke-width="0.35" >(c)</text>
<rect x="320" y="224" width="219" height="169.6" fill="none" stroke="#555" stroke-width="1.1"/>
<line x1="315" y1="393.6" x2="320" y2="393.6" stroke="#555" stroke-width="1.1"/>
<text transform="translate(312.5,396.2) scale(1,1.05)" font-size="9.5" text-anchor="end" font-family="Liberation Sans" font-weight="normal" fill="#1a1a1a" stroke="#1a1a1a" stroke-width="0.35" >0.0</text>
<line x1="315" y1="365.3" x2="320" y2="365.3" stroke="#555" stroke-width="1.1"/>
<text transform="translate(312.5,367.9) scale(1,1.05)" font-size="9.5" text-anchor="end" font-family="Liberation Sans" font-weight="normal" fill="#1a1a1a" stroke="#1a1a1a" stroke-width="0.35" >0.2</text>
<line x1="315" y1="337.1" x2="320" y2="337.1" stroke="#555" stroke-width="1.1"/>
<text transform="translate(312.5,339.7) scale(1,1.05)" font-size="9.5" text-anchor="end" font-family="Liberation Sans" font-weight="normal" fill="#1a1a1a" stroke="#1a1a1a" stroke-width="0.35" >0.4</text>
<line x1="315" y1="308.8" x2="320" y2="308.8" stroke="#555" stroke-width="1.1"/>
<text transform="translate(312.5,311.4) scale(1,1.05)" font-size="9.5" text-anchor="end" font-family="Liberation Sans" font-weight="normal" fill="#1a1a1a" stroke="#1a1a1a" stroke-width="0.35" >0.6</text>
<line x1="315" y1="280.5" x2="320" y2="280.5" stroke="#555" stroke-width="1.1"/>
<text transform="translate(312.5,283.1) scale(1,1.05)" font-size="9.5" text-anchor="end" font-family="Liberation Sans" font-weight="normal" fill="#1a1a1a" stroke="#1a1a1a" stroke-width="0.35" >0.8</text>
<line x1="315" y1="252.3" x2="320" y2="252.3" stroke="#555" stroke-width="1.1"/>
<text transform="translate(312.5,254.9) scale(1,1.05)" font-size="9.5" text-anchor="end" font-family="Liberation Sans" font-weight="normal" fill="#1a1a1a" stroke="#1a1a1a" stroke-width="0.35" >1.0</text>
<line x1="315" y1="224" x2="320" y2="224" stroke="#555" stroke-width="1.1"/>
<text transform="translate(312.5,226.6) scale(1,1.05)" font-size="9.5" text-anchor="end" font-family="Liberation Sans" font-weight="normal" fill="#1a1a1a" stroke="#1a1a1a" stroke-width="0.35" >1.2</text>
<line x1="320" y1="393.6" x2="320" y2="398.1" stroke="#555" stroke-width="1.1"/>
<text transform="translate(320,410.3) scale(1,1.05)" font-size="9.5" text-anchor="middle" font-family="Liberation Sans" font-weight="normal" fill="#1a1a1a" stroke="#1a1a1a" stroke-width="0.35" >350</text>
<line x1="374.8" y1="393.6" x2="374.8" y2="398.1" stroke="#555" stroke-width="1.1"/>
<text transform="translate(374.8,410.3) scale(1,1.05)" font-size="9.5" text-anchor="middle" font-family="Liberation Sans" font-weight="normal" fill="#1a1a1a" stroke="#1a1a1a" stroke-width="0.35" >400</text>
<line x1="429.5" y1="393.6" x2="429.5" y2="398.1" stroke="#555" stroke-width="1.1"/>
<text transform="translate(429.5,410.3) scale(1,1.05)" font-size="9.5" text-anchor="middle" font-family="Liberation Sans" font-weight="normal" fill="#1a1a1a" stroke="#1a1a1a" stroke-width="0.35" >450</text>
<line x1="484.2" y1="393.6" x2="484.2" y2="398.1" stroke="#555" stroke-width="1.1"/>
<text transform="translate(484.2,410.3) scale(1,1.05)" font-size="9.5" text-anchor="middle" font-family="Liberation Sans" font-weight="normal" fill="#1a1a1a" stroke="#1a1a1a" stroke-width="0.35" >500</text>
<line x1="539" y1="393.6" x2="539" y2="398.1" stroke="#555" stroke-width="1.1"/>
<text transform="translate(539,410.3) scale(1,1.05)" font-size="9.5" text-anchor="middle" font-family="Liberation Sans" font-weight="normal" fill="#1a1a1a" stroke="#1a1a1a" stroke-width="0.35" >550</text>
<text transform="translate(424.6,421.2) scale(1,1.05)" font-size="9.4" text-anchor="middle" font-family="Liberation Sans" font-weight="normal" fill="#1a1a1a" stroke="#1a1a1a" stroke-width="0.35" >Temperature (K)</text>
<text transform="translate(293.4,311) rotate(-90)" font-size="9.45" text-anchor="middle" font-family="Liberation Sans" fill="#1a1a1a" stroke="#1a1a1a" stroke-width="0.25">Intensity (absorbance)</text>
<path d="M345.2,375.1 L399.9,360.4 L454.7,351.2 L509.4,320.8" fill="none" stroke="#3a48c8" stroke-width="1.1"/>
<path d="M345.2,392.9 L399.9,385 L454.7,377.1 L509.4,342.6" fill="none" stroke="#b06a48" stroke-width="1.1"/>
<path d="M345.2,316.9 L399.9,319 L454.7,323.6 L509.4,335.4" fill="none" stroke="#3a48c8" stroke-width="1.1"/>
<path d="M345.2,362.5 L399.9,367.3 L454.7,368.9 L509.4,384" fill="none" stroke="#b06a48" stroke-width="1.1"/>
<path d="M345.19,371.15 L348.58,377.04 L341.79,377.04 Z" fill="white" stroke="#1c1ccf" stroke-width="1.3" stroke-linejoin="miter"/>
<path d="M399.94,356.45 L403.33,362.34 L396.54,362.34 Z" fill="white" stroke="#1c1ccf" stroke-width="1.3" stroke-linejoin="miter"/>
<path d="M454.69,347.27 L458.08,353.16 L451.29,353.16 Z" fill="white" stroke="#1c1ccf" stroke-width="1.3" stroke-linejoin="miter"/>
<path d="M509.44,316.88 L512.84,322.77 L506.04,322.77 Z" fill="white" stroke="#1c1ccf" stroke-width="1.3" stroke-linejoin="miter"/>
<path d="M345.19,388.96 L348.58,394.85 L341.79,394.85 Z" fill="white" stroke="#a8341a" stroke-width="1.3" stroke-linejoin="miter"/>
<path d="M399.94,381.05 L403.33,386.93 L396.54,386.93 Z" fill="white" stroke="#a8341a" stroke-width="1.3" stroke-linejoin="miter"/>
<path d="M454.69,373.13 L458.08,379.02 L451.29,379.02 Z" fill="white" stroke="#a8341a" stroke-width="1.3" stroke-linejoin="miter"/>
<path d="M509.44,338.65 L512.84,344.53 L506.04,344.53 Z" fill="white" stroke="#a8341a" stroke-width="1.3" stroke-linejoin="miter"/>
<circle cx="345.2" cy="316.9" r="4" fill="#1c1ccf"/>
<circle cx="399.9" cy="319" r="4" fill="#1c1ccf"/>
<circle cx="454.7" cy="323.6" r="4" fill="#1c1ccf"/>
<circle cx="509.4" cy="335.4" r="4" fill="#1c1ccf"/>
<circle cx="345.2" cy="362.5" r="4" fill="#8a3410"/>
<circle cx="399.9" cy="367.3" r="4" fill="#7a4212"/>
<circle cx="454.7" cy="368.9" r="4" fill="#8a3a12"/>
<circle cx="509.4" cy="384" r="4" fill="#9a3412"/>
<text transform="translate(325.2,239.6) scale(1,1.05)" font-size="9.3" text-anchor="start" font-family="Liberation Sans" font-weight="normal" fill="#3444b8" stroke="#3444b8" stroke-width="0.35" >Pd(iw)Ce(A)823F</text>
<text transform="translate(325.2,249.8) scale(1,1.05)" font-size="9.3" text-anchor="start" font-family="Liberation Sans" font-weight="normal" fill="#a85a36" stroke="#a85a36" stroke-width="0.35" >Pd(m)Ce(A)823F</text>
<text transform="translate(464.8,241.1) scale(1,1.05)" font-size="9.4" text-anchor="start" font-family="Liberation Sans" font-weight="normal" fill="#1a1a1a" stroke="#1a1a1a" stroke-width="0.35" >Ads: NO+8%O<tspan font-size="6.5" dy="2.5">2</tspan></text>
<text transform="translate(464.8,253.3) scale(1,1.05)" font-size="9.4" text-anchor="start" font-family="Liberation Sans" font-weight="normal" fill="#1a1a1a" stroke="#1a1a1a" stroke-width="0.35" >TPD: 8% O<tspan font-size="6.5" dy="2.5">2</tspan></text>
<text x="277.5" y="229.6" font-size="15.5" text-anchor="start" font-family="Liberation Serif" font-weight="bold" fill="#111" stroke="#111" stroke-width="0.35" >(d)</text>
</svg>
</body></html>
